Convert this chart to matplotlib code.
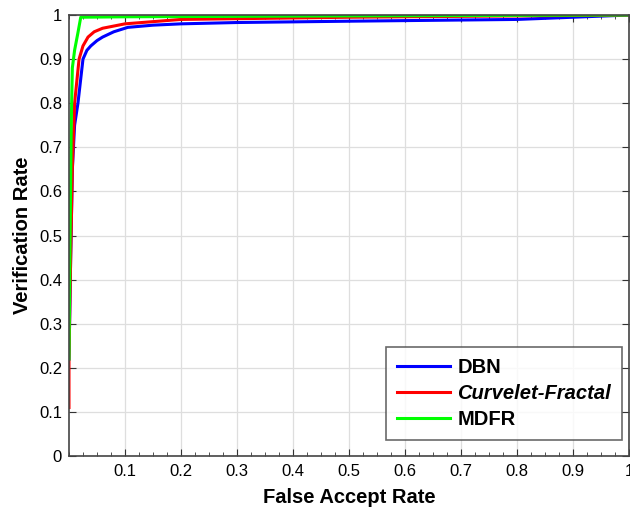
import numpy as np
import matplotlib
matplotlib.use("Agg")
import matplotlib.pyplot as plt
from matplotlib.ticker import MultipleLocator

plt.rcParams["font.family"] = ["Liberation Sans", "DejaVu Sans"]

# ROC-style curves
dbn_far = [0.0, 0.003, 0.006, 0.010, 0.016, 0.025, 0.032, 0.039, 0.05, 0.06, 0.08, 0.105, 0.15, 0.2, 0.3, 0.5, 0.8, 1.0]
dbn_vr = [0.22, 0.45, 0.65, 0.75, 0.80, 0.90, 0.92, 0.93, 0.942, 0.95, 0.962, 0.972, 0.977, 0.980, 0.983, 0.986, 0.990, 1.0]

cf_far = [0.0, 0.0, 0.003, 0.006, 0.010, 0.018, 0.025, 0.034, 0.045, 0.06, 0.1, 0.2, 0.5, 1.0]
cf_vr = [0.11, 0.22, 0.45, 0.65, 0.80, 0.90, 0.93, 0.95, 0.962, 0.970, 0.980, 0.990, 0.995, 1.0]

mdfr_far = [0.0, 0.002, 0.004, 0.006, 0.010, 0.016, 0.021, 0.1, 0.5, 1.0]
mdfr_vr = [0.22, 0.50, 0.75, 0.88, 0.92, 0.96, 0.995, 0.996, 0.998, 1.0]

labels = ["DBN", "Curvelet-Fractal", "MDFR"]
colors = ["#0000ff", "#ff0000", "#00ff00"]

fig = plt.figure(figsize=(6.3, 5.11), dpi=100)
ax = fig.add_axes([0.1095, 0.1076, 0.889, 0.863])

ax.plot(dbn_far, dbn_vr, color=colors[0], lw=2.2, label=labels[0])
ax.plot(cf_far, cf_vr, color=colors[1], lw=2.2, label=labels[1])
ax.plot(mdfr_far, mdfr_vr, color=colors[2], lw=2.2, label=labels[2])

ax.set_xlim(0, 1)
ax.set_ylim(0, 1)
ax.xaxis.set_minor_locator(MultipleLocator(0.025))
ax.set_xticks(np.arange(0.1, 1.01, 0.1))
ax.set_xticklabels(["0.1", "0.2", "0.3", "0.4", "0.5", "0.6", "0.7", "0.8", "0.9", "1"])
ax.set_yticks(np.arange(0, 1.01, 0.1))
ax.set_yticklabels(["0", "0.1", "0.2", "0.3", "0.4", "0.5", "0.6", "0.7", "0.8", "0.9", "1"])
ax.grid(True, color="#dedede", lw=0.9)
ax.set_axisbelow(True)
ax.tick_params(which="both", direction="in", top=True, right=True, colors="#333333",
               labelcolor="black", labelsize=12)
ax.tick_params(axis="x", which="major", length=5, pad=6)
ax.tick_params(axis="y", which="major", length=5, pad=5)
ax.tick_params(which="minor", length=3)
for s in ax.spines.values():
    s.set_color("#444444")
    s.set_linewidth(1.2)

ax.set_xlabel("False Accept Rate", fontsize=14.5, fontweight="bold", labelpad=6)
ax.set_ylabel("Verification Rate", fontsize=14.5, fontweight="bold", labelpad=5)

leg = ax.legend(loc="lower right", bbox_to_anchor=(0.9875, 0.036), fontsize=14.5,
                frameon=True, fancybox=False, edgecolor="#444444", handlelength=2.65,
                handletextpad=0.35, borderaxespad=0.0, borderpad=0.55, labelspacing=0.35)
leg.get_frame().set_linewidth(1.2)
for i, t in enumerate(leg.get_texts()):
    t.set_fontweight("bold")
    if i == 1:
        t.set_fontstyle("italic")

fig.savefig("out.png", dpi=100)
